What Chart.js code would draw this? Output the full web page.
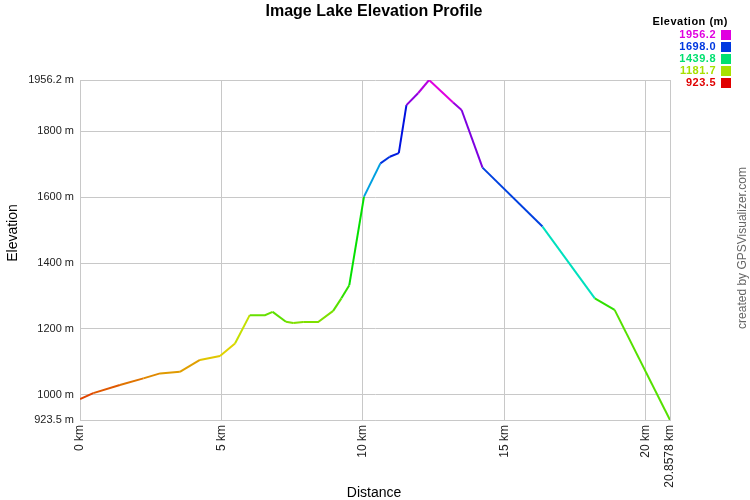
<!DOCTYPE html>
<html>
<head>
<meta charset="utf-8">
<script src="https://cdn.jsdelivr.net/npm/chart.js@4.4.1/dist/chart.umd.min.js"></script>
<style>
  body { margin: 0; background: #fff; }
  canvas { display: block; }
</style>
</head>
<body>
<canvas id="profile" width="750" height="500"></canvas>
<script>
// track
const distKm = [0, 0.47, 1.41, 2.24, 2.83, 3.53, 4.24, 4.95, 5.48, 6.0, 6.54, 6.81, 7.28, 7.54, 7.89, 8.42, 8.95, 9.24, 9.52, 10.04, 10.62, 10.95, 11.27, 11.54, 11.95, 12.34, 13.19, 13.49, 14.23, 16.35, 18.2, 18.9, 20.8578];
const elevM = [987, 1005, 1030, 1050, 1065, 1070, 1106, 1118, 1156, 1242, 1242, 1252, 1222, 1218, 1221, 1221, 1255, 1293, 1333, 1602, 1703, 1723, 1734, 1880, 1916, 1956.2, 1888, 1865, 1690, 1511, 1293, 1258, 923.5];
const xTicks = [0, 5, 10, 15, 20, 20.8578];
const yTicks = [923.5, 1000, 1200, 1400, 1600, 1800, 1956.2];
const legendVals = [1956.2, 1698.0, 1439.8, 1181.7, 923.5];

const minE = 923.5;
const maxE = 1956.2;
const FONT = '"Liberation Sans", Arial, sans-serif';

function colorFor(e) {
  var h = 300 * (e - minE) / (maxE - minE);
  return 'hsl(' + h + ', 100%, 44%)';
}

const points = distKm.map(function (d, i) { return { x: d, y: elevM[i] }; });

const extras = {
  id: 'extras',
  afterDraw: function (chart) {
    const c = chart.ctx;
    c.save();
    // title
    c.fillStyle = '#000';
    c.font = 'bold 16px ' + FONT;
    c.textAlign = 'center';
    c.textBaseline = 'middle';
    c.fillText('Image Lake Elevation Profile', 374, 12);

    // colour key
    c.font = 'bold 11px ' + FONT;
    c.letterSpacing = '0.5px';
    c.textAlign = 'right';
    c.fillText('Elevation (m)', 728, 22);
    legendVals.forEach(function (v, i) {
      const cy = 35 + i * 12;
      c.fillStyle = colorFor(v);
      c.fillText(v.toFixed(1), 716, cy);
      c.fillRect(721, cy - 5, 10, 10);
    });
    c.letterSpacing = '0px';

    // axis titles
    c.fillStyle = '#000';
    c.font = '14px ' + FONT;
    c.textAlign = 'center';
    c.fillText('Distance', 374, 493);
    c.save();
    c.translate(13, 233);
    c.rotate(-Math.PI / 2);
    c.fillText('Elevation', 0, 0);
    c.restore();

    // credit
    c.fillStyle = '#666';
    c.font = '12px ' + FONT;
    c.translate(743, 248);
    c.rotate(-Math.PI / 2);
    c.fillText('created by GPSVisualizer.com', 0, 0);
    c.restore();
  }
};

new Chart(document.getElementById('profile'), {
  type: 'line',
  data: {
    datasets: [{
      data: points,
      borderWidth: 2,
      pointRadius: 0,
      tension: 0,
      segment: {
        borderColor: function (ctx) { return colorFor(ctx.p0.parsed.y); }
      }
    }]
  },
  options: {
    responsive: false,
    animation: false,
    layout: { padding: { top: 80, right: 80, left: 0, bottom: 0 } },
    plugins: { legend: { display: false }, tooltip: { enabled: false } },
    scales: {
      x: {
        type: 'linear',
        min: 0,
        max: 20.8578,
        afterBuildTicks: function (scale) {
          scale.ticks = xTicks.map(function (v) { return { value: v }; });
        },
        afterFit: function (scale) { scale.height = 80; },
        grid: { color: '#c8c8c8', drawTicks: false },
        border: { color: '#c8c8c8' },
        ticks: {
          autoSkip: false,
          minRotation: 90,
          maxRotation: 90,
          padding: 5,
          color: '#222',
          font: { family: FONT, size: 12 },
          callback: function (v) { return v + ' km'; }
        }
      },
      y: {
        min: minE,
        max: maxE,
        afterBuildTicks: function (scale) {
          scale.ticks = yTicks.map(function (v) { return { value: v }; });
        },
        afterFit: function (scale) { scale.width = 80; },
        grid: { color: '#c8c8c8', drawTicks: false },
        border: { color: '#c8c8c8' },
        ticks: {
          padding: 6,
          color: '#222',
          font: { family: FONT, size: 11 },
          callback: function (v) { return v + ' m'; }
        }
      }
    }
  },
  plugins: [extras]
});
</script>
</body>
</html>
